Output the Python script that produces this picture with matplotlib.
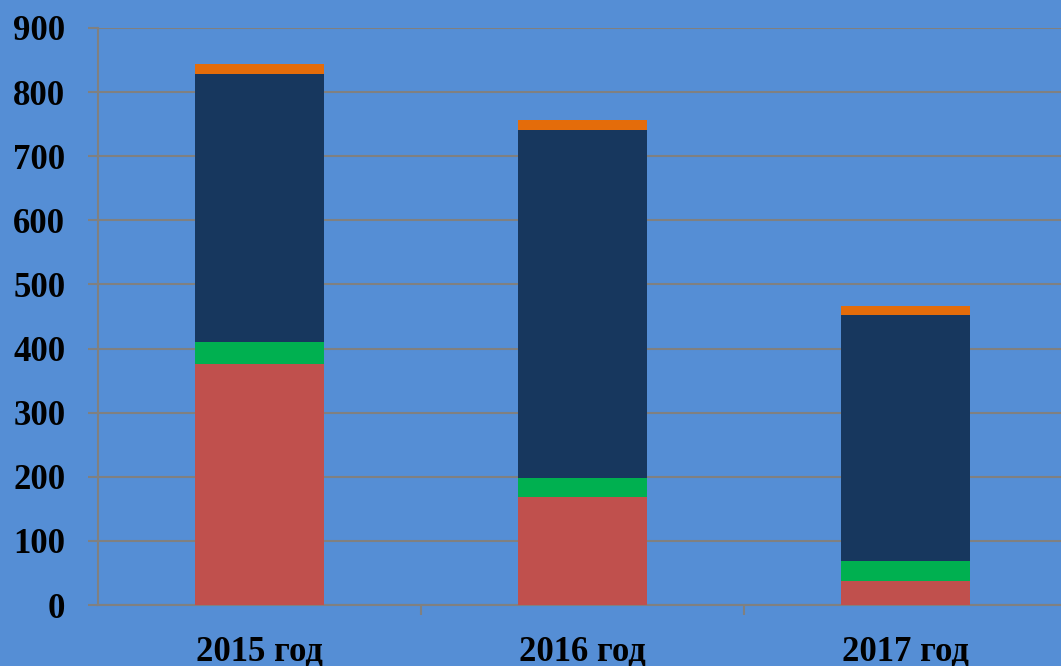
import matplotlib
matplotlib.use("Agg")
import matplotlib.pyplot as plt
import numpy as np

categories = ["2015 год", "2016 год", "2017 год"]
red_vals = [376, 168, 38]
green_vals = [34, 30, 30]
navy_vals = [419, 543, 384]
orange_vals = [15, 16, 15]

colors = ["#C0504D", "#00B050", "#17375E", "#E46C0A"]
series = [red_vals, green_vals, navy_vals, orange_vals]
bg = "#558ED5"
gray = "#808080"

plt.rcParams['font.family'] = ['Liberation Serif', 'DejaVu Serif']

fig = plt.figure(figsize=(10.61, 6.66), dpi=100)
fig.patch.set_facecolor(bg)
ax = fig.add_axes([98/1061, 61/666, 969/1061, 577/666])
ax.set_facecolor(bg)

x = np.arange(len(categories))
bottom = np.zeros(len(categories))
for vals, c in zip(series, colors):
    ax.bar(x, vals, width=0.4, bottom=bottom, color=c, edgecolor='none', zorder=3)
    bottom += np.array(vals)

ax.set_xlim(-0.5, 2.5)
ax.set_ylim(0, 900)
ax.set_yticks(np.arange(0, 901, 100))
ax.yaxis.grid(True, color=gray, linewidth=1.5, zorder=0)
ax.set_axisbelow(True)

ax.set_xticks(x)
ax.set_xticklabels(categories)
ax.set_xticks([0.5, 1.5], minor=True)
ax.tick_params(axis='x', which='major', length=0, pad=22)
ax.tick_params(axis='x', which='minor', length=7.5, width=1.5, color=gray, direction='out')
ax.tick_params(axis='y', length=7.5, width=1.5, color=gray, direction='out', pad=16)

for lab in ax.get_xticklabels() + ax.get_yticklabels():
    lab.set_fontsize(25)
    lab.set_fontweight('bold')
    lab.set_color('black')

for s in ['top', 'right']:
    ax.spines[s].set_visible(False)
for s in ['left', 'bottom']:
    ax.spines[s].set_color(gray)
    ax.spines[s].set_linewidth(1.5)

fig.savefig("out.png", dpi=100, facecolor=bg)
